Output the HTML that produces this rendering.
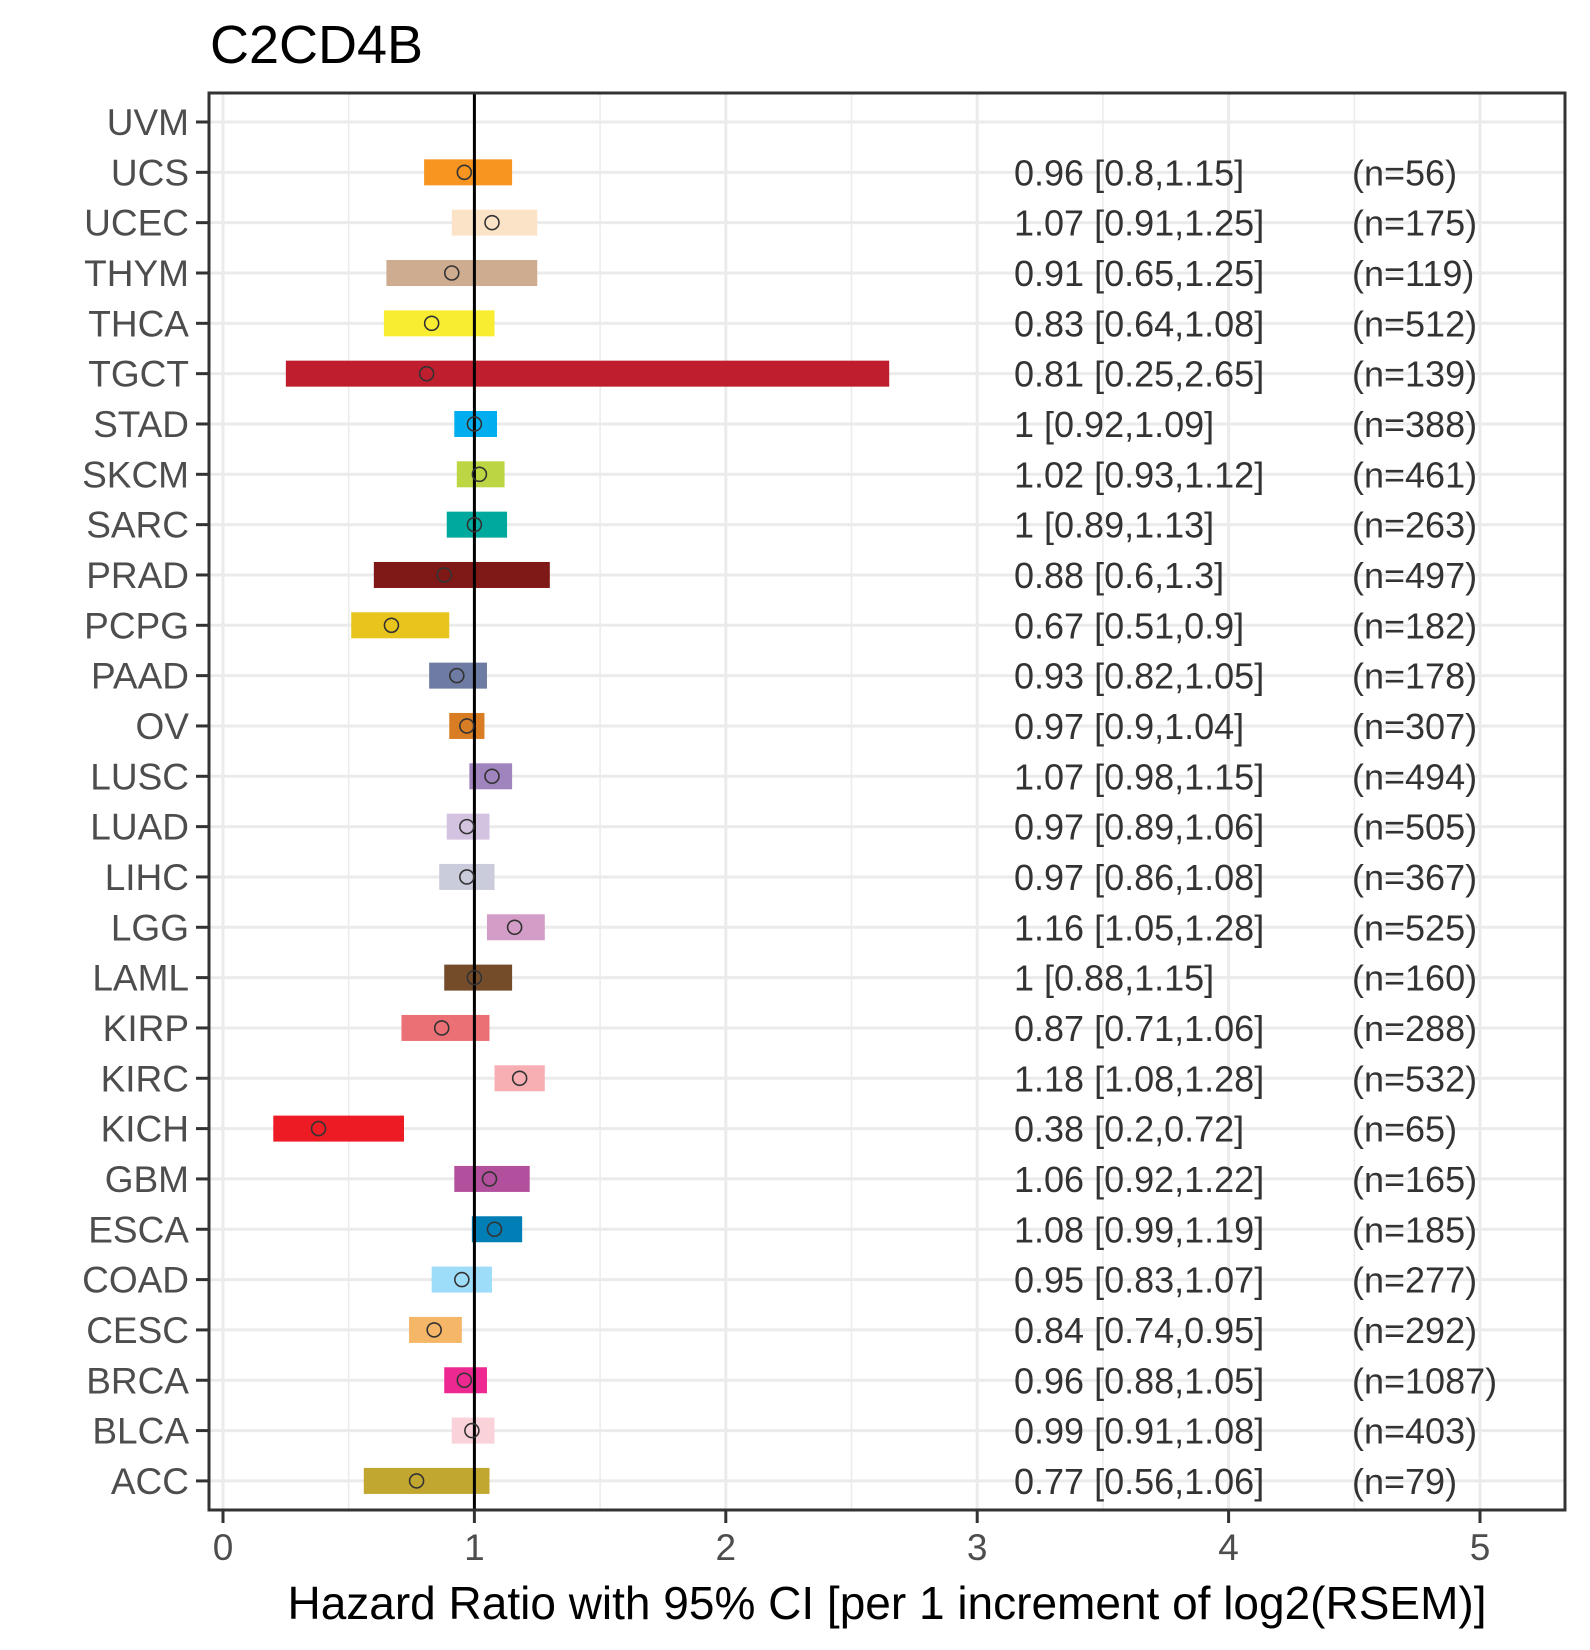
<!DOCTYPE html>
<html><head><meta charset="utf-8"><style>
html,body{margin:0;padding:0;background:#fff;}
svg{display:block;font-family:"Liberation Sans",Arial,sans-serif;}
</style></head><body>
<svg id="chart" width="1590" height="1650" viewBox="0 0 1590 1650" xmlns="http://www.w3.org/2000/svg">
<text x="210" y="63" font-size="54" fill="#000">C2CD4B</text>
<text x="887" y="1619" font-size="46" text-anchor="middle" fill="#000">Hazard Ratio with 95% CI [per 1 increment of log2(RSEM)]</text>
</svg>
<script>
const cancers = ["UVM","UCS","UCEC","THYM","THCA","TGCT","STAD","SKCM","SARC","PRAD","PCPG","PAAD","OV","LUSC","LUAD","LIHC","LGG","LAML","KIRP","KIRC","KICH","GBM","ESCA","COAD","CESC","BRCA","BLCA","ACC"];
const hr =    [null,0.96,1.07,0.91,0.83,0.81,1,1.02,1,0.88,0.67,0.93,0.97,1.07,0.97,0.97,1.16,1,0.87,1.18,0.38,1.06,1.08,0.95,0.84,0.96,0.99,0.77];
const lower = [null,0.8,0.91,0.65,0.64,0.25,0.92,0.93,0.89,0.6,0.51,0.82,0.9,0.98,0.89,0.86,1.05,0.88,0.71,1.08,0.2,0.92,0.99,0.83,0.74,0.88,0.91,0.56];
const upper = [null,1.15,1.25,1.25,1.08,2.65,1.09,1.12,1.13,1.3,0.9,1.05,1.04,1.15,1.06,1.08,1.28,1.15,1.06,1.28,0.72,1.22,1.19,1.07,0.95,1.05,1.08,1.06];
const hrLabels = ["","0.96 [0.8,1.15]","1.07 [0.91,1.25]","0.91 [0.65,1.25]","0.83 [0.64,1.08]","0.81 [0.25,2.65]","1 [0.92,1.09]","1.02 [0.93,1.12]","1 [0.89,1.13]","0.88 [0.6,1.3]","0.67 [0.51,0.9]","0.93 [0.82,1.05]","0.97 [0.9,1.04]","1.07 [0.98,1.15]","0.97 [0.89,1.06]","0.97 [0.86,1.08]","1.16 [1.05,1.28]","1 [0.88,1.15]","0.87 [0.71,1.06]","1.18 [1.08,1.28]","0.38 [0.2,0.72]","1.06 [0.92,1.22]","1.08 [0.99,1.19]","0.95 [0.83,1.07]","0.84 [0.74,0.95]","0.96 [0.88,1.05]","0.99 [0.91,1.08]","0.77 [0.56,1.06]"];
const nLabels = ["","(n=56)","(n=175)","(n=119)","(n=512)","(n=139)","(n=388)","(n=461)","(n=263)","(n=497)","(n=182)","(n=178)","(n=307)","(n=494)","(n=505)","(n=367)","(n=525)","(n=160)","(n=288)","(n=532)","(n=65)","(n=165)","(n=185)","(n=277)","(n=292)","(n=1087)","(n=403)","(n=79)"];
const colors = ["#ffffff","#F89420","#FBE3C7","#CEAC8F","#F9ED32","#BE1E2D","#00AEEF","#BBD642","#00A99D","#7E1918","#E8C51D","#6E7BA2","#D97D25","#A084BD","#D3C3E0","#CACCDB","#D49DC7","#754C29","#EA7075","#F8AFB3","#ED1C24","#B2509E","#007EB5","#9EDDF9","#F6B667","#ED2891","#FAD2D9","#C1A72F"];
const xTicks = [0,1,2,3,4,5];
const xMinor = [0.5,1.5,2.5,3.5,4.5];

const NS="http://www.w3.org/2000/svg";
const svg=document.getElementById('chart');
const PL=209,PR=1565,PT=93,PB=1510;
const x=v=>223+v*251.4;
const y=i=>122+i*50.33;
function mk(tag,attrs,parent){const e=document.createElementNS(NS,tag);for(const k in attrs)e.setAttribute(k,attrs[k]);(parent||svg).appendChild(e);return e;}

const grid=mk('g',{});


xMinor.forEach(v=>{const l=mk('line',{x1:x(v),x2:x(v),y1:PT,y2:PB,stroke:'#ebebeb','stroke-width':1.5},grid);

});
xTicks.forEach(v=>{const l=mk('line',{x1:x(v),x2:x(v),y1:PT,y2:PB,stroke:'#ebebeb','stroke-width':3},grid);

});
cancers.forEach((c,i)=>{const l=mk('line',{x1:PL,x2:PR,y1:y(i),y2:y(i),stroke:'#ebebeb','stroke-width':3},grid);

});

cancers.forEach((c,i)=>{
  if(hr[i]!==null){
    const r=mk('rect',{x:x(lower[i]),y:y(i)-13,width:x(upper[i])-x(lower[i]),height:26,fill:colors[i]});
    
    
  }
});
const ref=mk('line',{x1:x(1),x2:x(1),y1:PT,y2:PB,stroke:'#000','stroke-width':3});


cancers.forEach((c,i)=>{
  if(hr[i]!==null){
    const p=mk('circle',{cx:x(hr[i]),cy:y(i),r:7,fill:'none',stroke:'#333','stroke-width':1.6});
    
    
    const t=mk('text',{x:1014,y:y(i)+13,'font-size':36,fill:'#333'});t.textContent=hrLabels[i];
    
    
    const n=mk('text',{x:1352,y:y(i)+13,'font-size':36,fill:'#333'});n.textContent=nLabels[i];
    
    
  }
  const tk=mk('line',{x1:196,x2:PL,y1:y(i),y2:y(i),stroke:'#333','stroke-width':3});
  
  
  const lb=mk('text',{x:189,y:y(i)+13,'font-size':37,fill:'#4d4d4d','text-anchor':'end'});lb.textContent=c;
  
  
});
xTicks.forEach(v=>{
  const tk=mk('line',{x1:x(v),x2:x(v),y1:PB,y2:PB+13,stroke:'#333','stroke-width':3});
  
  
  const lb=mk('text',{x:x(v),y:1560,'font-size':37,fill:'#4d4d4d','text-anchor':'middle'});lb.textContent=v;
  
  
});
const border=mk('rect',{x:PL,y:PT,width:PR-PL,height:PB-PT,fill:'none',stroke:'#333','stroke-width':3});


</script>
</body></html>
